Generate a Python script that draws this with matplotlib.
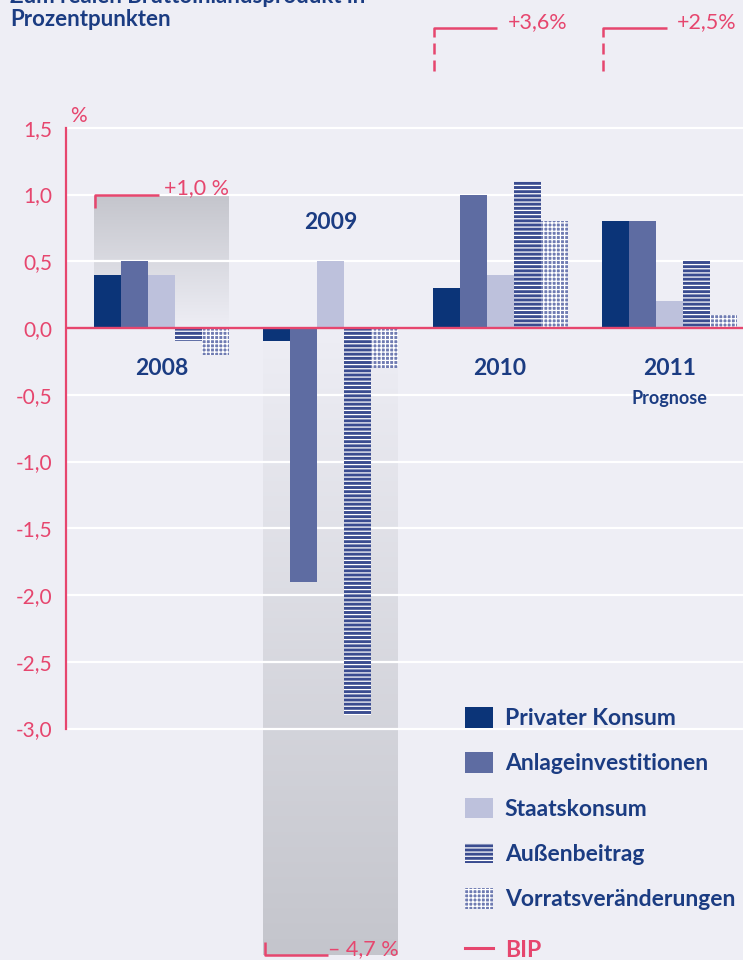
import matplotlib
matplotlib.use('Agg')
import matplotlib.pyplot as plt
import numpy as np
from matplotlib.colors import LinearSegmentedColormap
from matplotlib.lines import Line2D

# ---------------- data ----------------
years = ['2008', '2009', '2010', '2011']
series = ['Privater Konsum', 'Anlageinvestitionen', 'Staatskonsum',
          'Außenbeitrag', 'Vorratsveränderungen']
privat = [0.4, -0.1, 0.3, 0.8]
anlage = [0.5, -1.9, 1.0, 0.8]
staat = [0.4, 0.5, 0.4, 0.2]
aussen = [-0.1, -2.9, 1.1, 0.5]
vorrat = [-0.2, -0.3, 0.8, 0.1]
bip = [1.0, -4.7, 3.6, 2.5]
bip_labels = ['+1,0 %', '\u2013 4,7 %', '+3,6%', '+2,5%']
bip_name = 'BIP'
yticks = [1.5, 1.0, 0.5, 0.0, -0.5, -1.0, -1.5, -2.0, -2.5, -3.0]
ytick_labels = ['1,5', '1,0', '0,5', '0,0', '-0,5', '-1,0', '-1,5', '-2,0', '-2,5', '-3,0']
title_cut = 'Zum realen Bruttoinlandsprodukt in'
title = 'Prozentpunkten'
prognose = 'Prognose'

# ---------------- style ----------------
BG = '#EEEEF5'
RED = '#E6466E'
NAVY = '#1B3C82'
colors = ['#0B3478', '#5E6CA2', '#BDC1DC', '#3A4C90', '#6F7BB2']
hatches = [None, None, None, '----', '++++']

plt.rcParams['font.family'] = ['Lato', 'DejaVu Sans']
plt.rcParams['hatch.linewidth'] = 0.9

W, H = 743, 960
fig = plt.figure(figsize=(W / 100, H / 100), dpi=100, facecolor=BG)
ax = fig.add_axes([66 / W, 0, 1 - 66 / W, 1])
ax.set_facecolor(BG)

PX = 133.5   # pixels per unit (y)
GX = 169.3   # pixels per group (x)
ylim = ((328 - H) / PX, 328 / PX)
xlim = ((66 - 161.5) / GX, (W - 161.5) / GX)
w = 27 / GX
x = np.arange(len(years))

# gradient BIP boxes (only those inside the visible scale)
cmap = LinearSegmentedColormap.from_list('g', [BG, '#C4C5CC'])
grad = np.linspace(0, 1, 256).reshape(-1, 1)
for g, b in zip(x, bip):
    if ylim[0] <= b <= ylim[1]:
        ax.imshow(grad, cmap=cmap, aspect='auto', origin='lower',
                  extent=(g - 2.5 * w, g + 2.5 * w, 0, b), zorder=0.2,
                  interpolation='bilinear')

# bars
vals_all = [privat, anlage, staat, aussen, vorrat]
handles = []
for i, (vals, c, h) in enumerate(zip(vals_all, colors, hatches)):
    bc = ax.bar(x + (i - 2) * w, vals, w, color=c, hatch=h,
                edgecolor='white' if h else c, linewidth=0, zorder=2,
                align='center')
    handles.append(bc)

ax.axhline(0, color=RED, lw=1.7, zorder=3)

# axes styling
ax.set_xlim(*xlim)
ax.set_ylim(*ylim)
ax.set_yticks(yticks)
ax.set_yticklabels(ytick_labels)
ax.set_xticks([])
ax.yaxis.grid(True, color='white', lw=1.6)
ax.set_axisbelow(True)
for s in ['top', 'right', 'bottom']:
    ax.spines[s].set_visible(False)
ax.spines['left'].set_color(RED)
ax.spines['left'].set_linewidth(1.6)
ax.spines['left'].set_bounds(yticks[-1], yticks[0])
ax.tick_params(axis='y', length=0, pad=10, labelsize=15, labelcolor=RED)
ax.annotate('%', xy=(0, yticks[0]), xycoords=('axes fraction', 'data'),
            xytext=(3, 1), textcoords='offset points', va='bottom', ha='left',
            color=RED, fontsize=15)

# year labels
year_y = [-0.3, 0.79, -0.3, -0.3]
for g, yr, yy in zip(x, years, year_y):
    ax.text(g, yy, yr, ha='center', va='center', fontsize=16.5,
            weight='bold', color=NAVY)
ax.text(x[3], -0.53, prognose, ha='center', va='center', fontsize=13,
        weight='bold', color=NAVY)

# BIP brackets
LW = 1.8
seg = 0.375
for g, b, lab in zip(x, bip, bip_labels):
    x0 = g - 2.5 * w + 0.008
    x1 = g + 2.5 * w
    if ylim[0] <= b <= ylim[1]:
        sgn = 1 if b > 0 else -1
        ax.plot([x0, x0, x0 + seg], [b - sgn * 0.1, b, b], color=RED, lw=LW,
                solid_capstyle='butt', zorder=4)
        ax.text(x1, b, lab, ha='right', va='baseline', color=RED,
                fontsize=15.5, zorder=4)
    else:
        tr = ax.get_xaxis_transform()
        yt = 1 - 28 / H
        ax.plot([x0, x0, x0 + seg], [1 - 37 / H, yt, yt], color=RED, lw=LW,
                transform=tr, solid_capstyle='butt', zorder=4)
        for a, bb in [(43, 54), (60, 71)]:
            ax.plot([x0, x0], [1 - a / H, 1 - bb / H], color=RED, lw=LW,
                    transform=tr, solid_capstyle='butt', zorder=4)
        ax.text(x1, yt, lab, ha='right', va='baseline', color=RED,
                fontsize=15.5, transform=tr, zorder=4)

# legend
FS = 16.5
leg = ax.legend(handles, series, loc='upper left',
                bbox_to_anchor=(465 / W, 1 - 707 / H), bbox_transform=fig.transFigure,
                frameon=False, handlelength=1.22, handleheight=1.0,
                labelspacing=1.01, handletextpad=0.52, borderpad=0, borderaxespad=0,
                prop={'weight': 'bold', 'size': FS})
for t in leg.get_texts():
    t.set_color(NAVY)
ax.add_artist(leg)
bip_handle = Line2D([], [], color=RED, lw=2.2)
leg2 = ax.legend([bip_handle], [bip_name], loc='center left',
                 bbox_to_anchor=(465 / W, 1 - 950 / H), bbox_transform=fig.transFigure,
                 frameon=False, handlelength=1.22, handleheight=1.0,
                 handletextpad=0.52, borderpad=0, borderaxespad=0,
                 prop={'weight': 'bold', 'size': FS})
leg2.get_texts()[0].set_color(RED)

# titles
fig.text(10 / W, 1 - 3 / H, title_cut, ha='left', va='baseline', fontsize=16,
         weight='bold', color=NAVY)
fig.text(10 / W, 1 - 26 / H, title, ha='left', va='baseline', fontsize=16,
         weight='bold', color=NAVY)

fig.savefig('out.png', dpi=100, facecolor=BG)
